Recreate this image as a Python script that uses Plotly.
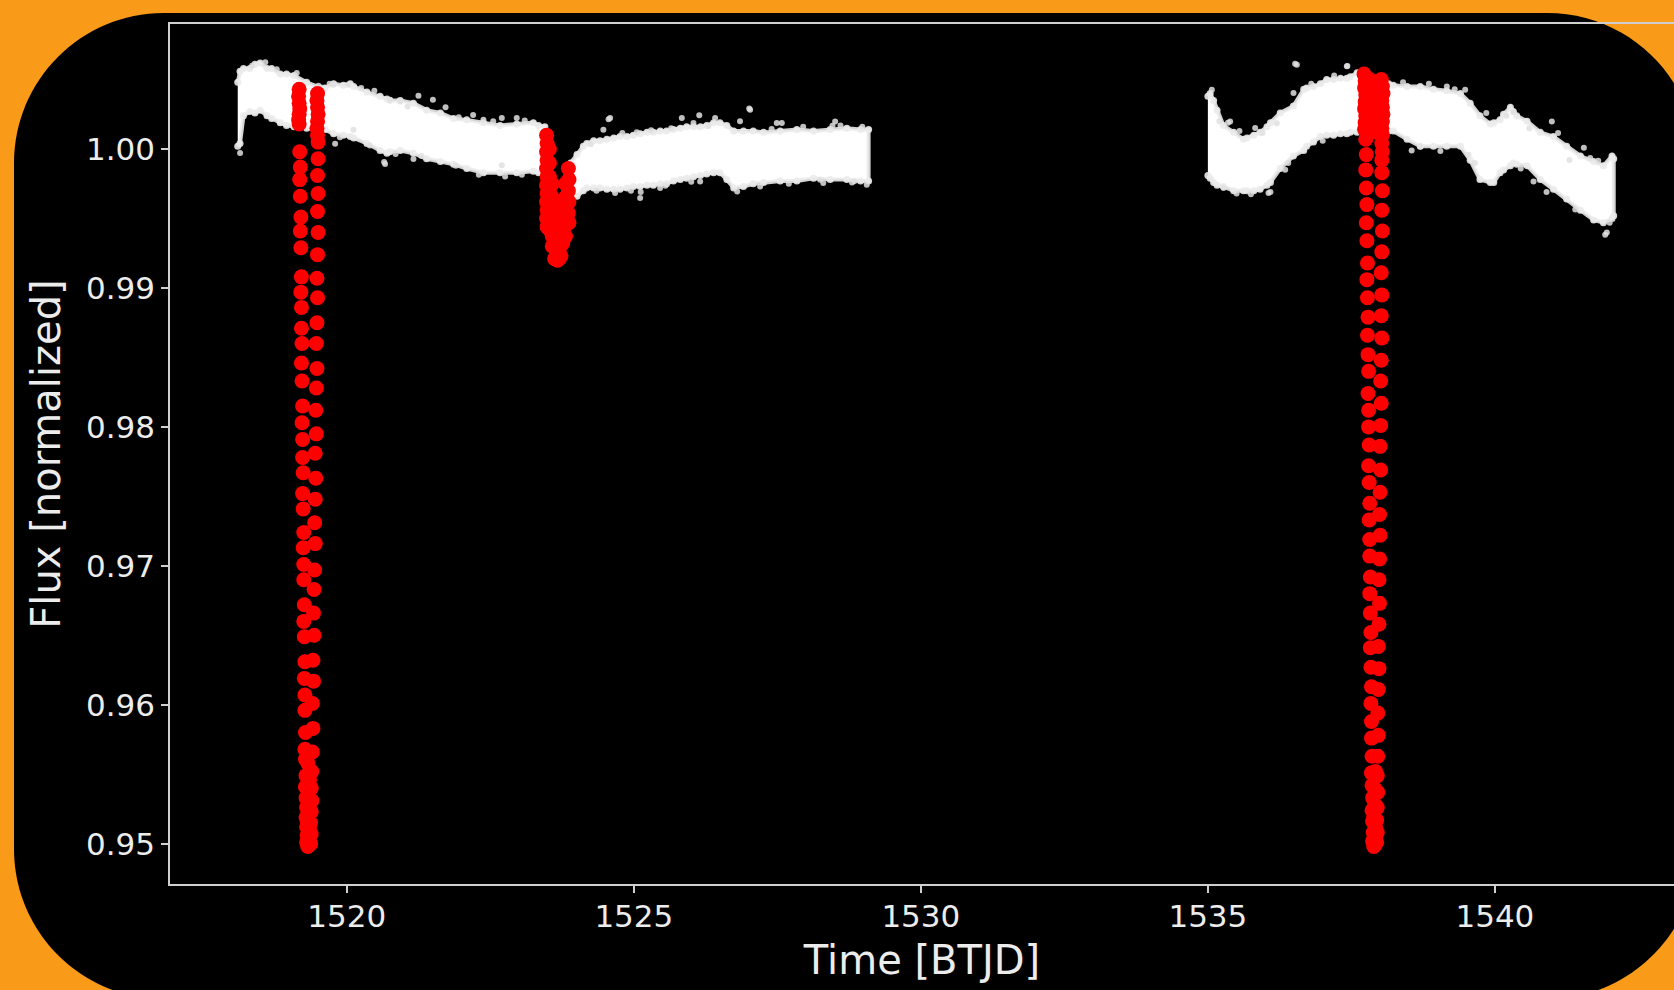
import plotly.graph_objects as go

# ---------------- data ----------------
# white light-curve band: time, upper and lower envelope of the dense points
band1_t = [1518.10, 1518.14, 1518.20, 1518.31, 1518.40, 1518.49, 1518.61, 1518.69, 1518.84, 1518.95, 1519.08,
           1519.30, 1519.55, 1519.62, 1519.77, 1519.94, 1520.06, 1520.12, 1520.35, 1520.58, 1520.70, 1520.75,
           1520.93, 1521.16, 1521.39, 1521.63, 1521.86, 1522.09, 1522.38, 1522.67, 1522.96, 1523.25, 1523.34,
           1523.45]
band1_hi = [1.0048, 1.0056, 1.0058, 1.0058, 1.0061, 1.0062, 1.0058, 1.0058, 1.0054, 1.0054, 1.0053,
            1.0048, 1.0044, 1.0044, 1.0047, 1.0046, 1.0047, 1.0045, 1.0041, 1.0038, 1.0036, 1.0035,
            1.0035, 1.0033, 1.0028, 1.0026, 1.0022, 1.0021, 1.0019, 1.0017, 1.0018, 1.0019, 1.0017,
            1.0016]
band1_lo = [1.0002, 1.0004, 1.0024, 1.0027, 1.0026, 1.0028, 1.0024, 1.0022, 1.0019, 1.0017, 1.0016,
            1.0015, 1.0014, 1.0014, 1.0011, 1.0010, 1.0009, 1.0008, 1.0004, 0.9999, 0.9997, 0.9998,
            0.9999, 0.9997, 0.9993, 0.9991, 0.9989, 0.9986, 0.9983, 0.9983, 0.9983, 0.9984, 0.9983,
            0.9983]

band1c_t = [1523.90, 1524.01, 1524.12, 1524.18, 1524.30, 1524.41, 1524.53, 1524.65, 1524.76, 1524.88, 1524.99,
            1525.11, 1525.23, 1525.34, 1525.46, 1525.57, 1525.69, 1525.81, 1525.92, 1526.04, 1526.16, 1526.27,
            1526.39, 1526.50, 1526.62, 1526.74, 1526.91, 1527.08, 1527.26, 1527.55, 1527.84, 1528.13, 1528.42,
            1528.71, 1528.95, 1529.09]
band1c_hi = [0.9990, 0.9996, 1.0002, 1.0004, 1.0006, 1.0006, 1.0007, 1.0008, 1.0009, 1.0009, 1.0010,
             1.0011, 1.0012, 1.0012, 1.0013, 1.0013, 1.0014, 1.0015, 1.0016, 1.0016, 1.0016, 1.0017,
             1.0019, 1.0019, 1.0017, 1.0013, 1.0013, 1.0013, 1.0012, 1.0013, 1.0014, 1.0013, 1.0014,
             1.0015, 1.0014, 1.0014]
band1c_lo = [0.9968, 0.9966, 0.9970, 0.9972, 0.9972, 0.9972, 0.9971, 0.9971, 0.9971, 0.9972, 0.9973,
             0.9973, 0.9974, 0.9974, 0.9975, 0.9975, 0.9977, 0.9978, 0.9979, 0.9980, 0.9981, 0.9982,
             0.9983, 0.9983, 0.9978, 0.9972, 0.9973, 0.9975, 0.9976, 0.9977, 0.9977, 0.9979, 0.9978,
             0.9978, 0.9977, 0.9977]

band2_t = [1535.00, 1535.04, 1535.10, 1535.16, 1535.27, 1535.45, 1535.62, 1535.68, 1535.80, 1535.91, 1536.03,
           1536.09, 1536.26, 1536.49, 1536.67, 1536.72, 1536.84, 1536.96, 1537.07, 1537.19, 1537.31, 1537.42,
           1537.48, 1537.60, 1537.88, 1538.15, 1538.23, 1538.47, 1538.70, 1538.93, 1539.16, 1539.40, 1539.57,
           1539.74, 1539.92, 1539.98, 1540.09, 1540.15, 1540.27, 1540.32, 1540.38, 1540.56, 1540.79, 1541.02,
           1541.25, 1541.49, 1541.72, 1541.89, 1542.04, 1542.07]
band2_hi = [1.0038, 1.0040, 1.0035, 1.0028, 1.0017, 1.0012, 1.0007, 1.0008, 1.0010, 1.0012, 1.0016,
            1.0019, 1.0026, 1.0031, 1.0043, 1.0044, 1.0045, 1.0047, 1.0050, 1.0050, 1.0051, 1.0051,
            1.0052, 1.0055, 1.0050, 1.0047, 1.0046, 1.0045, 1.0045, 1.0043, 1.0042, 1.0040, 1.0033,
            1.0024, 1.0018, 1.0019, 1.0021, 1.0025, 1.0030, 1.0027, 1.0024, 1.0020, 1.0012, 1.0009,
            1.0002, 0.9995, 0.9991, 0.9988, 0.9995, 0.9993]
band2_lo = [0.9981, 0.9979, 0.9976, 0.9974, 0.9973, 0.9970, 0.9970, 0.9970, 0.9970, 0.9971, 0.9974,
            0.9976, 0.9986, 0.9995, 0.9999, 1.0002, 1.0005, 1.0009, 1.0010, 1.0010, 1.0011, 1.0011,
            1.0012, 1.0012, 1.0012, 1.0013, 1.0013, 1.0007, 1.0002, 1.0002, 1.0002, 1.0002, 0.9992,
            0.9978, 0.9976, 0.9976, 0.9983, 0.9985, 0.9988, 0.9990, 0.9989, 0.9988, 0.9978, 0.9971,
            0.9964, 0.9956, 0.9949, 0.9947, 0.9950, 0.9952]

# isolated white points and the ragged edge of the band
out_t = [1519.128, 1519.506, 1519.767, 1520.028, 1520.754, 1520.929, 1521.248, 1522.38, 1522.70, 1522.96,
         1519.796, 1520.667, 1521.161, 1522.758, 1518.141, 1520.116,
         1524.587, 1524.47, 1525.052, 1525.836, 1526.039, 1526.416, 1527.026, 1527.49, 1527.578, 1528.507,
         1529.058, 1525.458, 1525.11, 1524.674, 1526.155, 1528.245,
         1535.069, 1536.55, 1537.421, 1536.492, 1535.388, 1535.824, 1536.347, 1539.482, 1539.163, 1540.992,
         1541.66, 1540.673, 1539.54, 1538.698, 1541.921, 1536.056, 1535.272,
         1521.06, 1520.65, 1521.95, 1522.70, 1524.56, 1525.12, 1526.14, 1527.01, 1528.46, 1528.84,
         1536.52, 1537.43, 1535.35, 1536.09, 1540.33, 1541.30, 1541.95,
         1518.35, 1518.58, 1518.78, 1519.70, 1520.25, 1520.48, 1521.50, 1521.72, 1522.20, 1522.55, 1523.10,
         1519.88, 1520.40, 1520.85, 1521.30, 1521.90, 1522.30, 1523.05,
         1524.25, 1524.80, 1525.30, 1525.65, 1526.30, 1526.85, 1527.40, 1527.95, 1528.60, 1528.98,
         1524.35, 1524.95, 1525.55, 1526.00, 1526.80, 1527.20, 1527.70, 1528.30, 1528.80,
         1535.20, 1535.55, 1535.95, 1536.20, 1536.80, 1537.20, 1538.40, 1538.85, 1539.30, 1539.85, 1540.20,
         1540.60, 1541.10, 1541.55, 1541.80, 1535.50, 1535.75, 1536.40, 1537.00, 1538.55, 1539.05, 1539.65,
         1540.45, 1540.90, 1541.40, 1542.00]
out_f = [1.00547, 1.00456, 1.00463, 1.00463, 1.00355, 1.00343, 1.00384, 1.00211, 1.00223, 1.00223,
         1.00038, 0.99892, 0.99928, 0.99803, 0.99971, 1.00139,
         1.00223, 1.00139, 1.00120, 1.00223, 1.00187, 1.00223, 1.00283, 1.00187, 1.00187, 1.00199,
         0.99743, 0.99719, 0.99647, 0.99683, 0.99767, 0.99779,
         1.00427, 1.00607, 1.00595, 1.00403, 1.00199, 1.00151, 0.99851, 1.00427, 1.00451, 1.00199,
         0.99935, 0.99767, 0.99959, 1.00019, 0.99383, 0.99683, 0.99719,
         1.00306, 0.99906, 1.00229, 0.99883, 1.00214, 0.99691, 1.00244, 1.00291, 1.00168, 0.99768,
         1.00613, 1.00598, 1.00190, 0.99691, 1.00267, 0.99921, 0.99399,
         1.00600, 1.00625, 1.00575, 1.00470, 1.00440, 1.00420, 1.00355, 1.00300, 1.00245, 1.00200, 1.00205,
         1.00085, 1.00025, 0.99965, 0.99950, 0.99880, 0.99815, 0.99815,
         1.00035, 1.00115, 1.00135, 1.00150, 1.00165, 1.00200, 1.00145, 1.00160, 1.00170, 1.00160,
         0.99700, 0.99700, 0.99735, 0.99765, 0.99695, 0.99730, 0.99750, 0.99755, 0.99760,
         1.00200, 1.00130, 1.00115, 1.00185, 1.00470, 1.00530, 1.00480, 1.00470, 1.00430, 1.00260, 1.00240,
         1.00150, 1.00115, 1.00010, 0.99915, 0.99680, 0.99675, 0.99900, 1.00060, 0.99990, 0.99985, 0.99900,
         0.99860, 0.99690, 0.99565, 0.99470]

# red (in-transit) points -- transit 1 near 1519.3
tr1_x = [1519.17, 1519.16, 1519.17, 1519.18, 1519.17, 1519.16, 1519.17,
         1519.49, 1519.48, 1519.49, 1519.50, 1519.49, 1519.48, 1519.49, 1519.50,
         1519.18, 1519.19, 1519.18, 1519.19, 1519.20, 1519.19, 1519.20, 1519.21, 1519.20, 1519.21, 1519.21,
         1519.22, 1519.21, 1519.22, 1519.23, 1519.22, 1519.23, 1519.23, 1519.24, 1519.23, 1519.24, 1519.25,
         1519.24, 1519.25, 1519.25, 1519.26, 1519.25, 1519.26, 1519.27, 1519.26, 1519.27, 1519.27, 1519.28,
         1519.27, 1519.28, 1519.29, 1519.28, 1519.29, 1519.30, 1519.29, 1519.30, 1519.31, 1519.30,
         1519.37, 1519.38, 1519.37, 1519.38, 1519.39, 1519.38, 1519.39, 1519.40, 1519.41, 1519.40, 1519.42,
         1519.41, 1519.43, 1519.42, 1519.43, 1519.44, 1519.45, 1519.44, 1519.45, 1519.46, 1519.45, 1519.47,
         1519.46, 1519.47, 1519.48, 1519.47, 1519.48, 1519.49, 1519.48, 1519.49, 1519.50, 1519.49, 1519.50,
         1519.49, 1519.50,
         1519.32, 1519.34, 1519.33, 1519.35, 1519.31, 1519.34, 1519.33, 1519.35, 1519.32]
tr1_y = [1.0043, 1.0038, 1.0033, 1.0029, 1.0025, 1.0021, 1.0018,
         1.0040, 1.0035, 1.0030, 1.0025, 1.0020, 1.0015, 1.0010, 1.0005,
         0.9998, 0.9987, 0.9978, 0.9966, 0.9951, 0.9941, 0.9929, 0.9908, 0.9897, 0.9886, 0.9871,
         0.9860, 0.9846, 0.9833, 0.9815, 0.9803, 0.9791, 0.9778, 0.9767, 0.9752, 0.9741, 0.9724,
         0.9713, 0.9701, 0.9690, 0.9672, 0.9660, 0.9649, 0.9631, 0.9619, 0.9607, 0.9596, 0.9580,
         0.9568, 0.9561, 0.9549, 0.9541, 0.9533, 0.9526, 0.9519, 0.9512, 0.9506, 0.9501,
         0.9500, 0.9507, 0.9515, 0.9523, 0.9531, 0.9540, 0.9552, 0.9566, 0.9583, 0.9601, 0.9617,
         0.9632, 0.9650, 0.9666, 0.9683, 0.9697, 0.9716, 0.9731, 0.9748, 0.9763, 0.9781, 0.9795,
         0.9812, 0.9828, 0.9842, 0.9860, 0.9875, 0.9893, 0.9907, 0.9924, 0.9940, 0.9955, 0.9968,
         0.9981, 0.9993,
         0.9498, 0.9499, 0.9504, 0.9510, 0.9516, 0.9523, 0.9535, 0.9546, 0.9558]

# secondary eclipse near 1523.7
sec_x = [1523.48, 1523.49, 1523.48, 1523.49, 1523.48, 1523.49, 1523.48, 1523.49, 1523.48, 1523.49, 1523.48, 1523.49,
         1523.53, 1523.53, 1523.53, 1523.53, 1523.53, 1523.53, 1523.53,
         1523.58, 1523.58, 1523.58, 1523.58, 1523.58, 1523.58,
         1523.64, 1523.64, 1523.64, 1523.64, 1523.64,
         1523.70, 1523.70, 1523.70, 1523.70, 1523.70,
         1523.76, 1523.76, 1523.76, 1523.76,
         1523.81, 1523.81, 1523.81, 1523.81, 1523.81,
         1523.86, 1523.87, 1523.86, 1523.87, 1523.86, 1523.87,
         1523.62, 1523.67, 1523.73]
sec_y = [1.0010, 1.0004, 0.9998, 0.9992, 0.9986, 0.9980, 0.9974, 0.9968, 0.9962, 0.9956, 0.9950, 0.9944,
         1.0000, 0.9990, 0.9980, 0.9970, 0.9960, 0.9950, 0.9942,
         0.9975, 0.9965, 0.9955, 0.9945, 0.9937, 0.9930,
         0.9960, 0.9950, 0.9940, 0.9930, 0.9922,
         0.9958, 0.9948, 0.9938, 0.9928, 0.9921,
         0.9962, 0.9952, 0.9942, 0.9932,
         0.9975, 0.9965, 0.9955, 0.9945, 0.9937,
         0.9986, 0.9978, 0.9970, 0.9962, 0.9954, 0.9947,
         0.9921, 0.9920, 0.9923]

# transit 2 near 1537.9
tr2_x = [1537.72, 1537.74, 1537.73, 1537.75, 1537.74, 1537.73, 1537.75, 1537.74, 1537.73,
         1538.02, 1538.04, 1538.05, 1538.03, 1538.04, 1538.05, 1538.04, 1538.03, 1538.04, 1538.03, 1538.04, 1538.03,
         1537.88, 1537.88, 1537.88, 1537.88, 1537.88, 1537.88, 1537.82, 1537.95, 1537.82, 1537.95, 1537.82, 1537.95,
         1537.75, 1537.76, 1537.75, 1537.76, 1537.77, 1537.76, 1537.77, 1537.78, 1537.77, 1537.78, 1537.79,
         1537.78, 1537.79, 1537.80, 1537.79, 1537.80, 1537.80, 1537.81, 1537.80, 1537.81, 1537.82, 1537.81,
         1537.82, 1537.82, 1537.83, 1537.82, 1537.83, 1537.84, 1537.83, 1537.84, 1537.85, 1537.84, 1537.85,
         1537.85, 1537.86, 1537.85, 1537.86, 1537.87, 1537.86, 1537.87, 1537.88, 1537.87,
         1537.94, 1537.95, 1537.94, 1537.95, 1537.96, 1537.95, 1537.96, 1537.97, 1537.96, 1537.97, 1537.98,
         1537.97, 1537.98, 1537.99, 1537.98, 1537.99, 1538.00, 1537.99, 1538.00, 1538.01, 1538.00, 1538.01,
         1538.02, 1538.01, 1538.02, 1538.03, 1538.02, 1538.03, 1538.02, 1538.03, 1538.04, 1538.03, 1538.04,
         1538.03,
         1537.89, 1537.91, 1537.90, 1537.92, 1537.89, 1537.91, 1537.90, 1537.92]
tr2_y = [1.0054, 1.0049, 1.0044, 1.0039, 1.0034, 1.0029, 1.0024, 1.0019, 1.0014,
         1.0050, 1.0045, 1.0040, 1.0035, 1.0030, 1.0025, 1.0020, 1.0015, 1.0010, 1.0004, 0.9998, 0.9992,
         1.0047, 1.0040, 1.0033, 1.0026, 1.0019, 1.0013, 1.0050, 1.0045, 1.0030, 1.0025, 1.0015, 1.0012,
         1.0007, 0.9996, 0.9985, 0.9972, 0.9960, 0.9947, 0.9934, 0.9918, 0.9906, 0.9893, 0.9879,
         0.9866, 0.9852, 0.9840, 0.9824, 0.9812, 0.9800, 0.9787, 0.9772, 0.9760, 0.9745, 0.9733,
         0.9719, 0.9707, 0.9692, 0.9680, 0.9666, 0.9652, 0.9641, 0.9627, 0.9613, 0.9601, 0.9588,
         0.9576, 0.9563, 0.9551, 0.9542, 0.9533, 0.9524, 0.9516, 0.9508, 0.9502,
         0.9501, 0.9508, 0.9517, 0.9526, 0.9537, 0.9549, 0.9563, 0.9578, 0.9594, 0.9611, 0.9626,
         0.9642, 0.9658, 0.9673, 0.9690, 0.9705, 0.9722, 0.9737, 0.9753, 0.9769, 0.9786, 0.9801,
         0.9817, 0.9833, 0.9848, 0.9864, 0.9880, 0.9895, 0.9911, 0.9926, 0.9941, 0.9956, 0.9970,
         0.9983,
         0.9498, 0.9499, 0.9505, 0.9512, 0.9519, 0.9528, 0.9540, 0.9552]

x_ticks = [1520, 1525, 1530, 1535, 1540]
y_ticks = [0.95, 0.96, 0.97, 0.98, 0.99, 1.00]
y_ticktext = ["0.95", "0.96", "0.97", "0.98", "0.99", "1.00"]
x_title = "Time [BTJD]"
y_title = "Flux [normalized]"

# ---------------- figure ----------------
W, H = 1674, 990
ML, MR, MT, MB = 170, 0, 24, 106
PW, PH = W - ML - MR, H - MT - MB


def paper(px, py):
    return (px - ML) / PW, (MT + PH - py) / PH


def rounded_rect_path(left, top, right, bottom, r):
    k = 0.5523 * r

    def p(x, y):
        a, b = paper(x, y)
        return f"{a:.5f},{b:.5f}"

    s = f"M{p(left + r, top)} L{p(right - r, top)} "
    s += f"C{p(right - r + k, top)} {p(right, top + r - k)} {p(right, top + r)} "
    s += f"L{p(right, bottom - r)} "
    s += f"C{p(right, bottom - r + k)} {p(right - r + k, bottom)} {p(right - r, bottom)} "
    s += f"L{p(left + r, bottom)} "
    s += f"C{p(left + r - k, bottom)} {p(left, bottom - r + k)} {p(left, bottom - r)} "
    s += f"L{p(left, top + r)} "
    s += f"C{p(left, top + r - k)} {p(left + r - k, top)} {p(left + r, top)} Z"
    return s


fig = go.Figure()

bands = [(band1_t, band1_hi, band1_lo), (band1c_t, band1c_hi, band1c_lo), (band2_t, band2_hi, band2_lo)]
for t, hi, lo in bands:
    fig.add_trace(go.Scatter(x=t + t[::-1], y=hi + lo[::-1], mode="lines", fill="toself",
                             fillcolor="white", line=dict(color="rgba(235,235,235,0.9)", width=4),
                             hoverinfo="skip", showlegend=False))
    fig.add_trace(go.Scatter(x=t + t, y=hi + lo, mode="markers",
                             marker=dict(size=7, color="rgba(235,235,235,0.9)"),
                             hoverinfo="skip", showlegend=False))

fig.add_trace(go.Scatter(x=out_t, y=out_f, mode="markers",
                         marker=dict(size=6, color="rgba(225,225,225,0.85)"),
                         showlegend=False))

for xs, ys in [(tr1_x, tr1_y), (sec_x, sec_y), (tr2_x, tr2_y)]:
    fig.add_trace(go.Scatter(x=xs, y=ys, mode="markers",
                             marker=dict(size=15, color="#ff0000", line=dict(width=0)),
                             showlegend=False))

axis_color = "#cfcfcf"
font_family = "DejaVu Sans"

fig.update_layout(
    width=W, height=H,
    margin=dict(l=ML, r=MR, t=MT, b=MB, pad=0),
    paper_bgcolor="#f99a18",
    plot_bgcolor="rgba(0,0,0,0)",
    showlegend=False,
    hovermode=False,
    font=dict(family=font_family, color="#ececec"),
    shapes=[dict(type="path", xref="paper", yref="paper", layer="below",
                 path=rounded_rect_path(14, 13, 1697, 999, 150),
                 fillcolor="black", line=dict(width=0))],
    xaxis=dict(range=[1516.92, 1543.12], tickvals=x_ticks, ticks="outside", ticklen=7,
               tickwidth=1.5, tickcolor=axis_color, showline=True, linecolor=axis_color,
               linewidth=1.5, mirror=True, showgrid=False, zeroline=False, ticklabelstandoff=-3,
               tickfont=dict(size=31, family=font_family, color="#ececec"),
               title=dict(text=x_title, font=dict(size=40, family=font_family, color="#ececec"),
                          standoff=13)),
    yaxis=dict(range=[0.9471, 1.0090], tickvals=y_ticks, ticktext=y_ticktext, ticks="outside",
               ticklen=7, tickwidth=1.5, tickcolor=axis_color, showline=True, linecolor=axis_color,
               linewidth=1.5, mirror=False, showgrid=False, zeroline=False,
               tickfont=dict(size=31, family=font_family, color="#ececec"),
               title=dict(text=y_title, font=dict(size=40, family=font_family, color="#ececec"),
                          standoff=13)),
)

fig.write_html("out.html")
